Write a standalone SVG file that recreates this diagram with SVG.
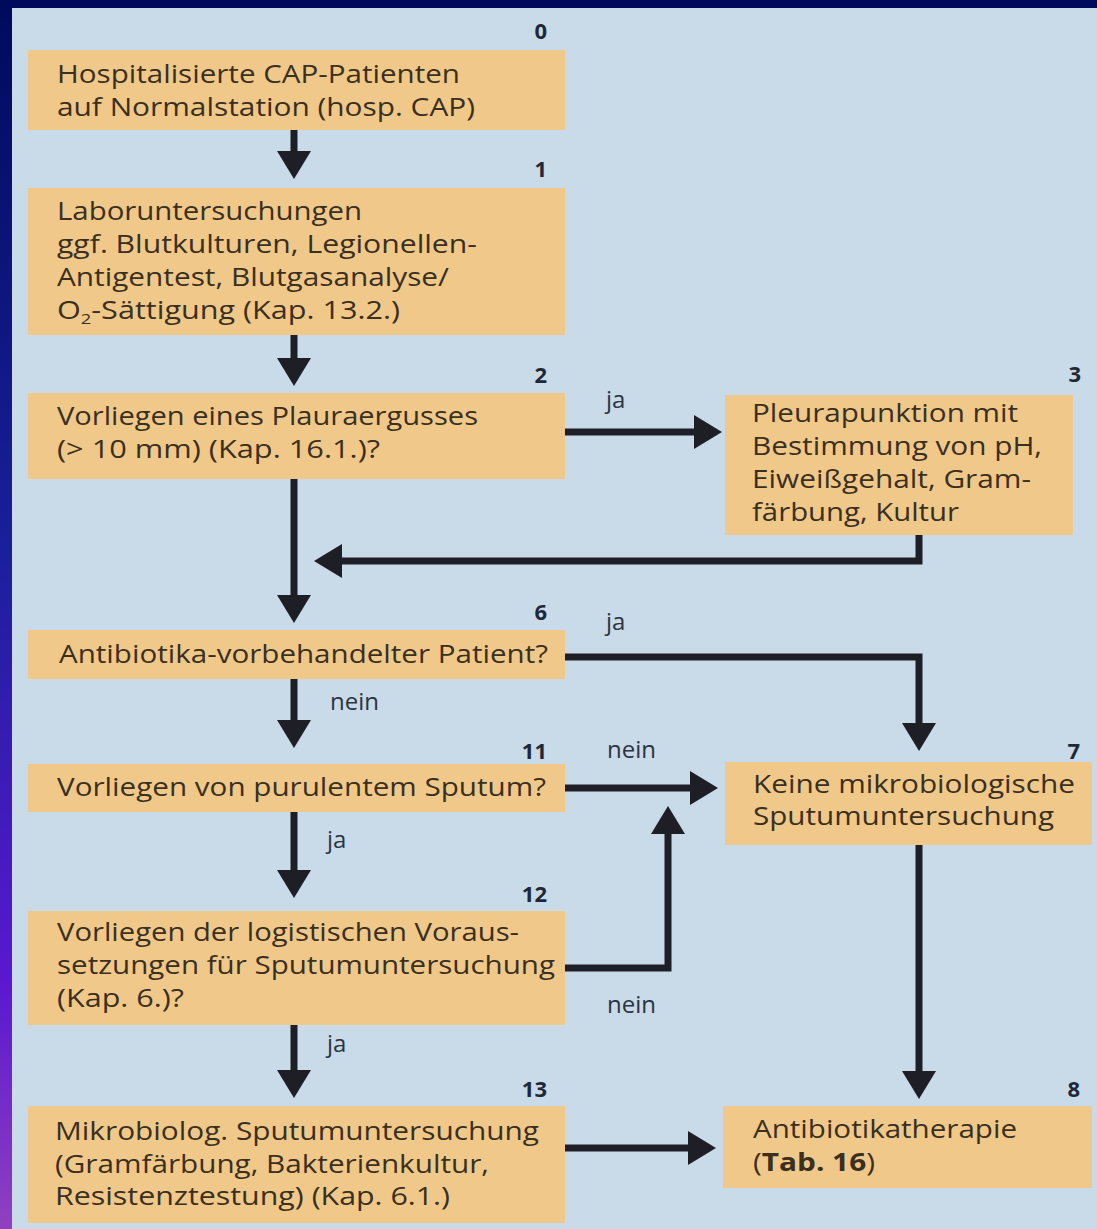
<svg xmlns="http://www.w3.org/2000/svg" width="1097" height="1229" viewBox="0 0 1097 1229">
  <defs>
    <linearGradient id="bgGrad" x1="0" y1="0" x2="0" y2="1">
      <stop offset="0" stop-color="#000a5c"/>
      <stop offset="0.45" stop-color="#1a1f9c"/>
      <stop offset="0.8" stop-color="#5a18d0"/>
      <stop offset="1" stop-color="#9040c0"/>
    </linearGradient>
    <marker id="arrow" markerUnits="userSpaceOnUse" markerWidth="28" markerHeight="34" viewBox="0 0 28 34" refX="0" refY="17" orient="auto">
      <path d="M0,0 L28,17 L0,34 z" fill="#1e1f26"/>
    </marker>
    <style>
      .box { fill: #f0c98a; }
      .txt { font-family: "Open Sans", "Noto Sans", "DejaVu Sans", sans-serif; font-size: 25px; fill: #3b2f20; }
      .num { font-family: "Open Sans", "Noto Sans", "DejaVu Sans", sans-serif; font-size: 22px; font-weight: bold; fill: #1f2838; text-anchor: end; }
      .lbl { font-family: "Open Sans", "Noto Sans", "DejaVu Sans", sans-serif; font-size: 24px; fill: #2b3440; }
      .conn { fill: none; stroke: #1e1f26; stroke-width: 7; marker-end: url(#arrow); }
      .plain { fill: none; stroke: #1e1f26; stroke-width: 7; }
    </style>
  </defs>

  <rect x="0" y="0" width="1097" height="1229" fill="url(#bgGrad)"/>
  <rect x="12" y="8" width="1085" height="1221" fill="#c9dae9"/>

  <g id="node0">
    <rect class="box" x="28" y="50" width="537" height="80"/>
    <text class="num" x="547" y="39">0</text>
    <text class="txt" x="57" y="83" textLength="403" lengthAdjust="spacingAndGlyphs">Hospitalisierte CAP-Patienten</text>
    <text class="txt" x="57" y="116" textLength="418" lengthAdjust="spacingAndGlyphs">auf Normalstation (hosp. CAP)</text>
  </g>

  <g id="node1">
    <rect class="box" x="28" y="188" width="537" height="147"/>
    <text class="num" x="547" y="177">1</text>
    <text class="txt" x="57" y="220" textLength="305" lengthAdjust="spacingAndGlyphs">Laboruntersuchungen</text>
    <text class="txt" x="57" y="253" textLength="420" lengthAdjust="spacingAndGlyphs">ggf. Blutkulturen, Legionellen-</text>
    <text class="txt" x="57" y="286" textLength="392" lengthAdjust="spacingAndGlyphs">Antigentest, Blutgasanalyse/</text>
    <text class="txt" x="57" y="319" textLength="343" lengthAdjust="spacingAndGlyphs">O<tspan font-size="15" dy="5">2</tspan><tspan dy="-5">-Sättigung (Kap. 13.2.)</tspan></text>
  </g>

  <g id="node2">
    <rect class="box" x="28" y="393" width="537" height="86"/>
    <text class="num" x="547" y="383">2</text>
    <text class="txt" x="57" y="425" textLength="421" lengthAdjust="spacingAndGlyphs">Vorliegen eines Plauraergusses</text>
    <text class="txt" x="57" y="458" textLength="323" lengthAdjust="spacingAndGlyphs">(&gt; 10 mm) (Kap. 16.1.)?</text>
  </g>

  <g id="node3">
    <rect class="box" x="725" y="395" width="348" height="140"/>
    <text class="num" x="1081" y="382">3</text>
    <text class="txt" x="752" y="422" textLength="266" lengthAdjust="spacingAndGlyphs">Pleurapunktion mit</text>
    <text class="txt" x="752" y="455" textLength="290" lengthAdjust="spacingAndGlyphs">Bestimmung von pH,</text>
    <text class="txt" x="752" y="488" textLength="279" lengthAdjust="spacingAndGlyphs">Eiweißgehalt, Gram-</text>
    <text class="txt" x="752" y="521" textLength="207" lengthAdjust="spacingAndGlyphs">färbung, Kultur</text>
  </g>

  <g id="node6">
    <rect class="box" x="28" y="630" width="537" height="49"/>
    <text class="num" x="547" y="620">6</text>
    <text class="txt" x="59" y="663" textLength="489" lengthAdjust="spacingAndGlyphs">Antibiotika-vorbehandelter Patient?</text>
  </g>

  <g id="node11">
    <rect class="box" x="28" y="764" width="537" height="48"/>
    <text class="num" x="547" y="759">11</text>
    <text class="txt" x="57" y="796" textLength="489" lengthAdjust="spacingAndGlyphs">Vorliegen von purulentem Sputum?</text>
  </g>

  <g id="node12">
    <rect class="box" x="28" y="911" width="537" height="114"/>
    <text class="num" x="547" y="902">12</text>
    <text class="txt" x="57" y="941" textLength="462" lengthAdjust="spacingAndGlyphs">Vorliegen der logistischen Voraus-</text>
    <text class="txt" x="57" y="974" textLength="498" lengthAdjust="spacingAndGlyphs">setzungen für Sputumuntersuchung</text>
    <text class="txt" x="57" y="1007" textLength="127" lengthAdjust="spacingAndGlyphs">(Kap. 6.)?</text>
  </g>

  <g id="node13">
    <rect class="box" x="28" y="1106" width="537" height="117"/>
    <text class="num" x="547" y="1097">13</text>
    <text class="txt" x="55" y="1140" textLength="484" lengthAdjust="spacingAndGlyphs">Mikrobiolog. Sputumuntersuchung</text>
    <text class="txt" x="55" y="1173" textLength="434" lengthAdjust="spacingAndGlyphs">(Gramfärbung, Bakterienkultur,</text>
    <text class="txt" x="55" y="1205" textLength="395" lengthAdjust="spacingAndGlyphs">Resistenztestung) (Kap. 6.1.)</text>
  </g>

  <g id="node7">
    <rect class="box" x="725" y="762" width="367" height="83"/>
    <text class="num" x="1080" y="759">7</text>
    <text class="txt" x="753" y="793" textLength="322" lengthAdjust="spacingAndGlyphs">Keine mikrobiologische</text>
    <text class="txt" x="753" y="825" textLength="301" lengthAdjust="spacingAndGlyphs">Sputumuntersuchung</text>
  </g>

  <g id="node8">
    <rect class="box" x="723" y="1106" width="369" height="82"/>
    <text class="num" x="1080" y="1097">8</text>
    <text class="txt" x="753" y="1138" textLength="264" lengthAdjust="spacingAndGlyphs">Antibiotikatherapie</text>
    <text class="txt" x="753" y="1171" textLength="122" lengthAdjust="spacingAndGlyphs">(<tspan font-weight="bold">Tab. 16</tspan>)</text>
  </g>

  <g id="connectors">
    <path class="conn" d="M294,130 V151"/>
    <path class="conn" d="M294,335 V358"/>
    <path class="conn" d="M565,432 H694"/>
    <path class="conn" d="M294,479 V595"/>
    <path class="conn" d="M919,535 V561 H342"/>
    <path class="conn" d="M565,657 H919 V723"/>
    <path class="conn" d="M294,679 V720"/>
    <path class="conn" d="M565,788 H690"/>
    <path class="conn" d="M294,812 V870"/>
    <path class="conn" d="M565,968 H668 V834"/>
    <path class="conn" d="M294,1025 V1070"/>
    <path class="conn" d="M919,845 V1071"/>
    <path class="conn" d="M565,1148 H688"/>
    <text class="lbl" x="606" y="408">ja</text>
    <text class="lbl" x="606" y="630">ja</text>
    <text class="lbl" x="330" y="710">nein</text>
    <text class="lbl" x="607" y="758">nein</text>
    <text class="lbl" x="327" y="848">ja</text>
    <text class="lbl" x="607" y="1013">nein</text>
    <text class="lbl" x="327" y="1052">ja</text>
  </g>
</svg>
